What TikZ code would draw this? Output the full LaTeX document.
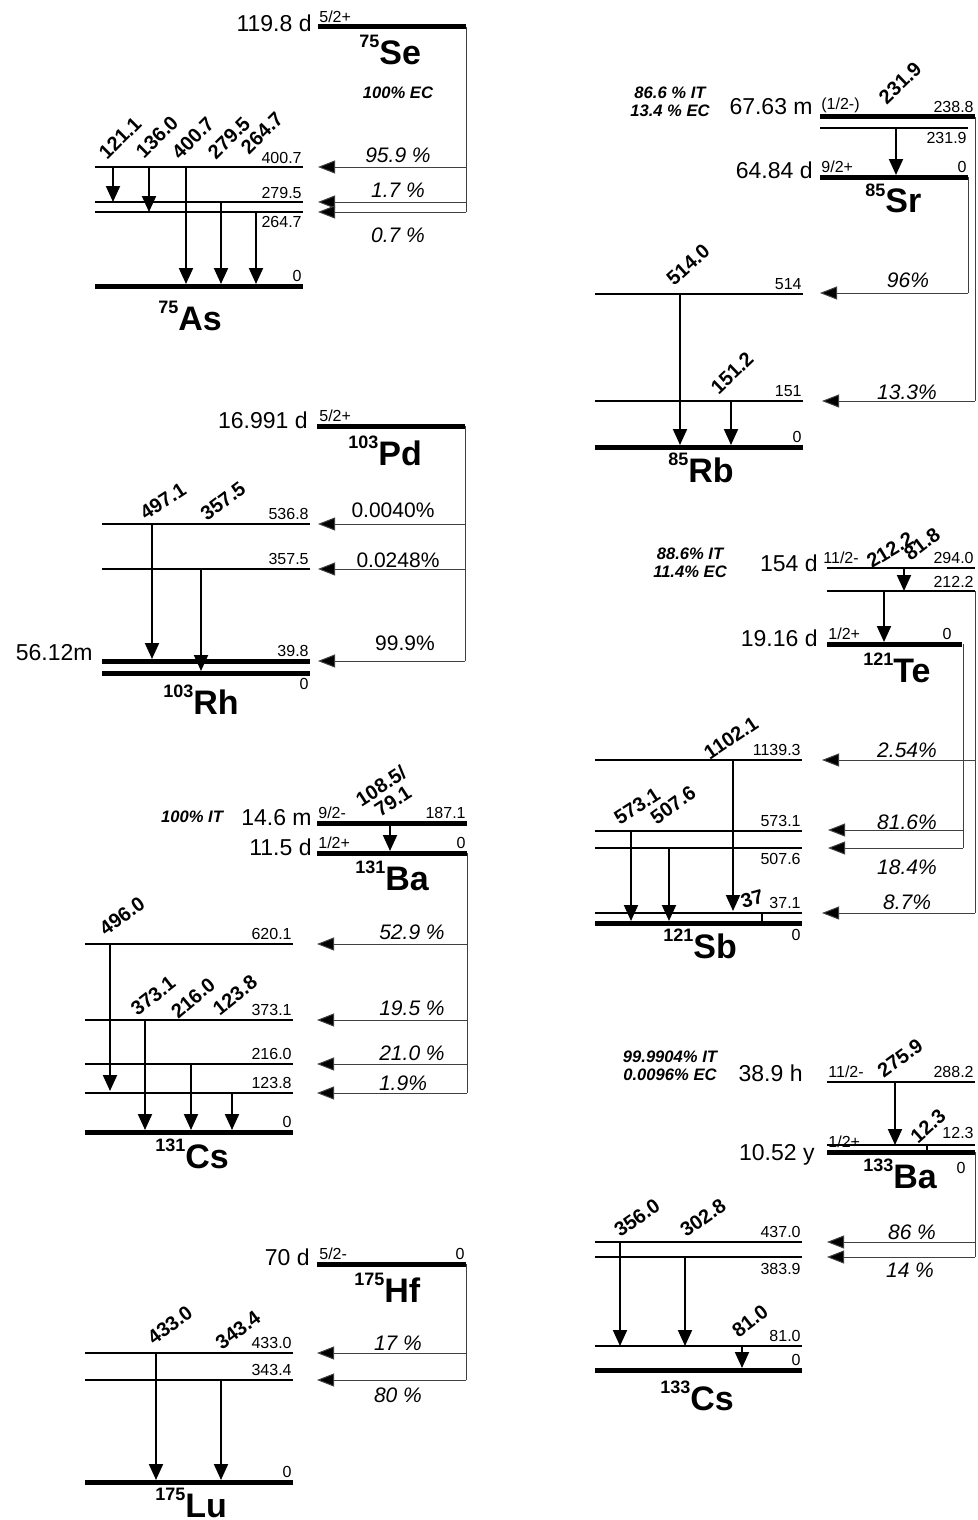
\documentclass[tikz,border=0pt]{standalone}
\usepackage{fontspec}
\setmainfont{Liberation Sans}
\usepackage{tikz}
\usetikzlibrary{arrows.meta}
\newcommand{\nucl}[2]{{\fontsize{9}{9}\selectfont\raisebox{8.5pt}{#1}}#2}

\begin{document}
\begin{tikzpicture}[x=0.5pt, y=-0.5pt,
  lvl/.style={line width=1pt},
  gnd/.style={line width=2.5pt},
  gam/.style={line width=1pt, -{Triangle[length=8pt,width=7pt]}},
  feedline/.style={line width=0.5pt, black!75},
  feed/.style={line width=0.5pt, draw=black!75, -{Triangle[length=8.5pt,width=6.5pt,fill=black]}},
  en/.style={font=\fontsize{8}{9}\selectfont, inner sep=0.5pt},
  half/.style={font=\fontsize{11.5}{12}\selectfont, inner sep=0pt, anchor=east},
  pct/.style={font=\fontsize{10.5}{11}\selectfont\itshape, inner sep=0pt},
  pctup/.style={font=\fontsize{10.5}{11}\selectfont, inner sep=0pt},
  glab/.style={font=\fontsize{10}{10}\selectfont\bfseries, inner sep=0pt, rotate=#1},
  glab/.default=38,
  mode/.style={font=\fontsize{8.3}{9}\selectfont\bfseries\itshape, inner sep=0pt, align=center},
  nuc/.style={font=\fontsize{17}{18}\selectfont\bfseries, inner sep=0pt, anchor=base west}
]
\useasboundingbox (0,0) rectangle (978,1520);

% 75Se -> 75As
\draw[gnd] (318,27) -- (466,27);
\node[half] (seT) at (312,23) {119.8 d};
\node[en, anchor=south west] (seJ) at (318,24) {5/2+};
\node[nuc] (se) at (359,65) {\nucl{75}{Se}};
\node[mode] (seM) at (398,93) {100\% EC};
\draw[feedline] (466,27) -- (466,212);
\draw[feed] (466,167) -- (318,167);
\draw[feed] (466,202) -- (318,202);
\draw[feed] (466,212) -- (318,212);
\node[pct] (seP1) at (398,155) {95.9 \%};
\node[pct] (seP2) at (398,190) {1.7 \%};
\node[pct] (seP3) at (398,235) {0.7 \%};
\draw[lvl] (95,167) -- (303,167);
\draw[lvl] (95,202) -- (303,202);
\draw[lvl] (95,212) -- (303,212);
\draw[gnd] (95,286) -- (303,286);
\node[en, anchor=south east] (asE1) at (303,165) {400.7};
\node[en, anchor=south east] (asE2) at (303,200) {279.5};
\node[en, anchor=north east] (asE3) at (303,215) {264.7};
\node[en, anchor=south east] (asE0) at (303,283) {0};
\draw[gam] (113,167) -- (113,202);
\draw[gam] (149,167) -- (149,212);
\draw[gam] (186,167) -- (186,284);
\draw[gam] (221,202) -- (221,284);
\draw[gam] (256,212) -- (256,284);
\node[glab=45] (asG1) at (120,138) {121.1};
\node[glab=45] (asG2) at (157,137) {136.0};
\node[glab=45] (asG3) at (193,138) {400.7};
\node[glab=45] (asG4) at (229,138) {279.5};
\node[glab=45] (asG5) at (262,133) {264.7};
\node[nuc] (as) at (158,330) {\nucl{75}{As}};

% 85Sr -> 85Rb
\draw[gnd] (820,117) -- (975,117);
\draw[lvl] (820,128) -- (968,128);
\draw[gnd] (820,177) -- (968,177);
\draw[gam] (896,128) -- (896,175);
\node[glab=44] (srG) at (900,83) {231.9};
\node[en, anchor=south west] (srJ1) at (820,114) {(1/2-)};
\node[en, anchor=south east] (srE1) at (975,114) {238.8};
\node[en, anchor=north east] (srE2) at (968,131) {231.9};
\node[en, anchor=south west] (srJ0) at (820,174) {9/2+};
\node[en, anchor=south east] (srE0) at (968,174) {0};
\node[half] (srT1) at (813,107) {67.63 m};
\node[half] (srT0) at (813,170) {64.84 d};
\node[mode] (srM) at (670,102) {86.6 \% IT\\13.4 \% EC};
\node[nuc] (sr) at (865,213) {\nucl{85}{Sr}};
\draw[feedline] (968,177) -- (968,293);
\draw[feed] (968,293) -- (820,293);
\draw[feedline] (975,117) -- (975,401);
\draw[feed] (975,401) -- (822,401);
\node[pct] (srP1) at (908,280) {96\%};
\node[pct] (srP2) at (907,392) {13.3\%};
\draw[lvl] (595,294) -- (803,294);
\draw[lvl] (595,401) -- (803,401);
\draw[gnd] (595,447) -- (803,447);
\draw[gam] (680,294) -- (680,445);
\draw[gam] (731,401) -- (731,445);
\node[glab=42] (rbG1) at (688,265) {514.0};
\node[glab=44] (rbG2) at (732,373) {151.2};
\node[en, anchor=south east] (rbE1) at (803,291) {514};
\node[en, anchor=south east] (rbE2) at (803,398) {151};
\node[en, anchor=south east] (rbE0) at (803,444) {0};
\node[nuc] (rb) at (668,482) {\nucl{85}{Rb}};

% 103Pd -> 103Rh
\draw[gnd] (317,426) -- (465,426);
\node[half] (pdT) at (308,420) {16.991 d};
\node[en, anchor=south west] (pdJ) at (318,423) {5/2+};
\node[nuc] (pd) at (348,465) {\nucl{103}{Pd}};
\draw[feedline] (465,426) -- (465,661);
\draw[feed] (465,524) -- (318,524);
\draw[feed] (465,569) -- (318,569);
\draw[feed] (465,661) -- (318,661);
\node[pctup] (pdP1) at (393,510) {0.0040\%};
\node[pctup] (pdP2) at (398,560) {0.0248\%};
\node[pctup] (pdP3) at (405,643) {99.9\%};
\draw[lvl] (102,524) -- (310,524);
\draw[lvl] (102,569) -- (310,569);
\draw[gnd] (102,661) -- (310,661);
\draw[gnd] (102,673) -- (310,673);
\draw[gam] (152,524) -- (152,659);
\draw[gam] (201,569) -- (201,671);
\node[glab=33] (rhG1) at (163,501) {497.1};
\node[glab=37] (rhG2) at (223,501) {357.5};
\node[half] (rhT) at (93,653) {56.12m};
\node[en, anchor=south east] (rhE1) at (310,521) {536.8};
\node[en, anchor=south east] (rhE2) at (310,566) {357.5};
\node[en, anchor=south east] (rhE3) at (310,658) {39.8};
\node[en, anchor=north east] (rhE0) at (310,677) {0};
\node[nuc] (rh) at (163,714) {\nucl{103}{Rh}};

% 121Te -> 121Sb
\draw[lvl] (827,568) -- (975,568);
\draw[lvl] (827,591) -- (975,591);
\draw[gnd] (827,644) -- (962,644);
\draw[gam] (904,568) -- (904,591);
\draw[gam] (884,591) -- (884,642);
\node[glab=31] (teG1) at (890,550) {212.2};
\node[glab=37] (teG2) at (922,544) {81.8};
\node[en, anchor=south west] (teJ1) at (822,565) {11/2-};
\node[en, anchor=south east] (teE1) at (975,565) {294.0};
\node[en, anchor=south east] (teE2) at (975,589) {212.2};
\node[half] (teT1) at (818,563) {154 d};
\node[half] (teT0) at (818,638) {19.16 d};
\node[en, anchor=south west] (teJ0) at (827,641) {1/2+};
\node[en, anchor=south east] (teE0) at (953,641) {0};
\node[mode] (teM) at (690,563) {88.6\% IT\\11.4\% EC};
\node[nuc] (te) at (863,682) {\nucl{121}{Te}};
\draw[feedline] (975,591) -- (975,913);
\draw[feed] (975,760) -- (822,760);
\draw[feed] (975,913) -- (822,913);
\draw[feedline] (963,644) -- (963,848);
\draw[feed] (963,830) -- (828,830);
\draw[feed] (963,848) -- (828,848);
\node[pct] (teP1) at (907,750) {2.54\%};
\node[pct] (teP2) at (907,822) {81.6\%};
\node[pct] (teP3) at (907,867) {18.4\%};
\node[pct] (teP4) at (907,902) {8.7\%};
\draw[lvl] (595,760) -- (802,760);
\draw[lvl] (595,831) -- (802,831);
\draw[lvl] (595,848) -- (802,848);
\draw[lvl] (595,913) -- (802,913);
\draw[gnd] (595,923) -- (802,923);
\draw[gam] (733,760) -- (733,911);
\draw[gam] (631,831) -- (631,921);
\draw[gam] (669,848) -- (669,921);
\draw[lvl] (762,913) -- (762,923);
\node[glab=34] (sbG1) at (731,738) {1102.1};
\node[glab=33] (sbG2) at (637,806) {573.1};
\node[glab=36] (sbG3) at (673,805) {507.6};
\node[glab=15] (sbG4) at (752,899) {37};
\node[en, anchor=south east] (sbE1) at (802,757) {1139.3};
\node[en, anchor=south east] (sbE2) at (802,828) {573.1};
\node[en, anchor=north east] (sbE3) at (802,852) {507.6};
\node[en, anchor=south east] (sbE4) at (802,910) {37.1};
\node[en, anchor=north east] (sbE0) at (802,928) {0};
\node[nuc] (sb) at (663,958) {\nucl{121}{Sb}};

% 131Ba -> 131Cs
\draw[gnd] (317,823) -- (467,823);
\draw[gnd] (317,853) -- (467,853);
\draw[gam] (390,823) -- (390,851);
\node[glab=33] (baG1) at (381,786) {108.5/};
\node[glab=33] (baG2) at (393,801) {79.1};
\node[en, anchor=south west] (baJ1) at (317,820) {9/2-};
\node[en, anchor=south east] (baE1) at (467,820) {187.1};
\node[en, anchor=south west] (baJ0) at (317,850) {1/2+};
\node[en, anchor=south east] (baE0) at (467,850) {0};
\node[half] (baT1) at (312,818) {14.6 m};
\node[half] (baT0) at (312,847) {11.5 d};
\node[mode] (baM) at (192,817) {100\% IT};
\node[nuc] (ba) at (355,890) {\nucl{131}{Ba}};
\draw[feedline] (467,853) -- (467,1093);
\draw[feed] (467,944) -- (317,944);
\draw[feed] (467,1020) -- (317,1020);
\draw[feed] (467,1064) -- (317,1064);
\draw[feed] (467,1093) -- (317,1093);
\node[pct] (baP1) at (412,932) {52.9 \%};
\node[pct] (baP2) at (412,1008) {19.5 \%};
\node[pct] (baP3) at (412,1053) {21.0 \%};
\node[pct] (baP4) at (403,1083) {1.9\%};
\draw[lvl] (85,944) -- (293,944);
\draw[lvl] (85,1020) -- (293,1020);
\draw[lvl] (85,1064) -- (293,1064);
\draw[lvl] (85,1093) -- (293,1093);
\draw[gnd] (85,1132) -- (293,1132);
\draw[gam] (110,944) -- (110,1091);
\draw[gam] (145,1020) -- (145,1130);
\draw[gam] (191,1064) -- (191,1130);
\draw[gam] (232,1093) -- (232,1130);
\node[glab=36] (csG1) at (122,916) {496.0};
\node[glab=38] (csG2) at (153,996) {373.1};
\node[glab=40] (csG3) at (193,998) {216.0};
\node[glab=39] (csG4) at (235,995) {123.8};
\node[en, anchor=south east] (csE1) at (293,941) {620.1};
\node[en, anchor=south east] (csE2) at (293,1017) {373.1};
\node[en, anchor=south east] (csE3) at (293,1061) {216.0};
\node[en, anchor=south east] (csE4) at (293,1090) {123.8};
\node[en, anchor=south east] (csE0) at (293,1129) {0};
\node[nuc] (cs) at (155,1168) {\nucl{131}{Cs}};

% 133Ba -> 133Cs
\draw[lvl] (827,1082) -- (975,1082);
\draw[lvl] (827,1145) -- (975,1145);
\draw[gnd] (827,1152) -- (975,1152);
\draw[gam] (895,1082) -- (895,1145);
\draw[lvl] (927,1145) -- (927,1152);
\node[glab=36] (bbG1) at (900,1058) {275.9};
\node[glab=42] (bbG2) at (928,1126) {12.3};
\node[en, anchor=south west] (bbJ1) at (827,1079) {11/2-};
\node[en, anchor=south east] (bbE1) at (975,1079) {288.2};
\node[en, anchor=south west] (bbJ0) at (827,1149) {1/2+};
\node[en, anchor=south east] (bbE2) at (975,1140) {12.3};
\node[en, anchor=north east] (bbE0) at (967,1161) {0};
\node[half] (bbT1) at (803,1073) {38.9 h};
\node[half] (bbT0) at (815,1155) {10.52 y};
\node[mode] (bbM) at (670,1066) {99.9904\% IT\\0.0096\% EC};
\node[nuc] (bb) at (863,1188) {\nucl{133}{Ba}};
\draw[feedline] (975,1152) -- (975,1257);
\draw[feed] (975,1242) -- (827,1242);
\draw[feed] (975,1257) -- (827,1257);
\node[pct] (bbP1) at (912,1232) {86 \%};
\node[pct] (bbP2) at (910,1270) {14 \%};
\draw[lvl] (595,1242) -- (802,1242);
\draw[lvl] (595,1257) -- (802,1257);
\draw[lvl] (595,1346) -- (802,1346);
\draw[gnd] (595,1370) -- (802,1370);
\draw[gam] (620,1242) -- (620,1346);
\draw[gam] (685,1257) -- (685,1346);
\draw[gam] (742,1346) -- (742,1368);
\node[glab=35] (ccG1) at (637,1218) {356.0};
\node[glab=35] (ccG2) at (703,1218) {302.8};
\node[glab=38] (ccG3) at (750,1321) {81.0};
\node[en, anchor=south east] (ccE1) at (802,1239) {437.0};
\node[en, anchor=north east] (ccE2) at (802,1262) {383.9};
\node[en, anchor=south east] (ccE3) at (802,1343) {81.0};
\node[en, anchor=south east] (ccE0) at (802,1367) {0};
\node[nuc] (cc) at (660,1410) {\nucl{133}{Cs}};

% 175Hf -> 175Lu
\draw[gnd] (317,1264) -- (466,1264);
\node[half] (hfT) at (310,1257) {70 d};
\node[en, anchor=south west] (hfJ) at (318,1261) {5/2-};
\node[en, anchor=south east] (hfE) at (466,1261) {0};
\node[nuc] (hf) at (354,1302) {\nucl{175}{Hf}};
\draw[feedline] (466,1264) -- (466,1380);
\draw[feed] (466,1353) -- (317,1353);
\draw[feed] (466,1380) -- (317,1380);
\node[pct] (hfP1) at (398,1343) {17 \%};
\node[pct] (hfP2) at (398,1395) {80 \%};
\draw[lvl] (85,1353) -- (293,1353);
\draw[lvl] (85,1380) -- (293,1380);
\draw[gnd] (85,1482) -- (293,1482);
\draw[gam] (156,1353) -- (156,1480);
\draw[gam] (221,1380) -- (221,1480);
\node[glab=37] (luG1) at (170,1325) {433.0};
\node[glab=37] (luG2) at (238,1330) {343.4};
\node[en, anchor=south east] (luE1) at (293,1350) {433.0};
\node[en, anchor=south east] (luE2) at (293,1377) {343.4};
\node[en, anchor=south east] (luE0) at (293,1479) {0};
\node[nuc] (lu) at (155,1517) {\nucl{175}{Lu}};
\end{tikzpicture}
\end{document}
